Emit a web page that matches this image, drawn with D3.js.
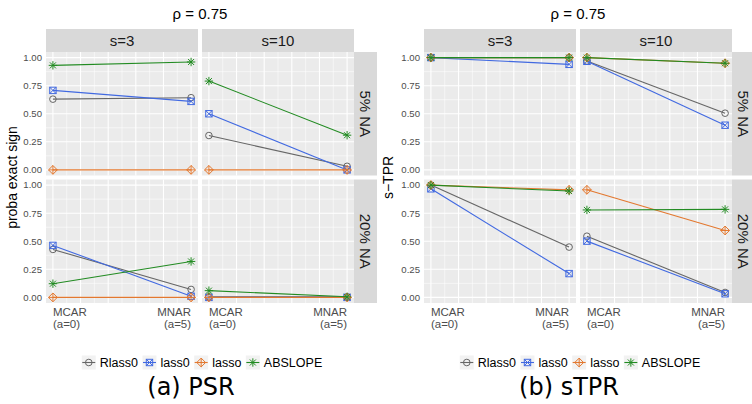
<!DOCTYPE html>
<html>
<head>
<meta charset="utf-8">
<script src="https://cdn.jsdelivr.net/npm/d3@7"></script>
<style>
  body { margin: 0; background: #fff; }
  svg { display: block; font-family: "Liberation Sans", Arial, sans-serif; }
</style>
</head>
<body>
<svg id="chart"></svg>
<script>
const width = 752
const height = 404

const methods = ['Rlass0', 'lass0', 'lasso', 'ABSLOPE']
const colors = ['#666666', '#4169E1', '#E3782F', '#228B22']
const shapes = ['circle', 'squareX', 'diamondPlus', 'asterisk']
const sizes = ['s=3', 's=10']
const naRates = ['5% NA', '20% NA']
const mechanisms = [0, 5]
const xLabels = [['MCAR', '(a=0)'], ['MNAR', '(a=5)']]
const yTicks = [0, 0.25, 0.5, 0.75, 1]

// values per facet: (5% s=3), (5% s=10), (20% s=3), (20% s=10), each [MCAR, MNAR]
const psrRlass0 = [0.63, 0.643, 0.306, 0.032, 0.427, 0.071, 0.005, 0.005]
const psrLass0 = [0.708, 0.61, 0.5, 0.0, 0.463, 0.01, 0.0, 0.0]
const psrLasso = [0, 0, 0, 0, 0, 0, 0, 0]
const psrAbslope = [0.931, 0.961, 0.791, 0.309, 0.122, 0.32, 0.06, 0.005]

const tprRlass0 = [1, 1, 0.97, 0.505, 1, 0.448, 0.545, 0.044]
const tprLass0 = [1, 0.94, 0.967, 0.398, 0.967, 0.212, 0.501, 0.032]
const tprLasso = [1, 1, 1, 0.95, 1, 0.958, 0.958, 0.596]
const tprAbslope = [1, 1, 1, 0.95, 1, 0.947, 0.779, 0.784]

const svg = d3.select('#chart').attr('width', width).attr('height', height)

const drawSymbol = (g, shape, color) => {
  const s = g.append('g').attr('fill', 'none').attr('stroke', color).attr('stroke-width', 1)
  if (shape === 'circle') {
    s.append('circle').attr('r', 3.3)
  } else if (shape === 'squareX') {
    s.append('rect').attr('x', -3.2).attr('y', -3.2).attr('width', 6.4).attr('height', 6.4)
    s.append('path').attr('d', 'M-3.2,-3.2L3.2,3.2M-3.2,3.2L3.2,-3.2')
  } else if (shape === 'diamondPlus') {
    s.append('path').attr('d', 'M0,-4.4L4.4,0L0,4.4L-4.4,0Z')
    s.append('path').attr('d', 'M0,-4.4V4.4M-4.4,0H4.4')
  } else {
    s.append('path').attr('d', 'M0,-4.2V4.2M-4.2,0H4.2M-3,-3L3,3M-3,3L3,-3')
  }
}

const drawChart = (ox, series, yTitle, caption, captionX, panelX0) => {
  const g = svg.append('g').attr('transform', `translate(${ox},0)`)
  const panelW = 152
  const panelH = 123.5
  const gap = 4
  const top = 52
  const stripH = 23

  const x = d3.scaleLinear().domain([-0.25, 5.25])
  const y = d3.scaleLinear().domain([-0.05, 1.05])

  const panelsRight = panelX0 + 2 * panelW + gap
  const midX = (panelX0 + panelsRight) / 2

  g.append('text')
    .attr('x', midX).attr('y', 18.5)
    .attr('text-anchor', 'middle')
    .attr('font-size', 15).attr('fill', '#000')
    .text('ρ = 0.75')

  sizes.forEach((s, c) => {
    const px = panelX0 + c * (panelW + gap)
    g.append('rect').attr('x', px).attr('y', top - stripH).attr('width', panelW).attr('height', stripH).attr('fill', '#D9D9D9')
    g.append('text').attr('x', px + panelW / 2).attr('y', 46.3)
      .attr('text-anchor', 'middle').attr('font-size', 15).attr('fill', '#1A1A1A').text(s)
  })

  naRates.forEach((na, r) => {
    const py = top + r * (panelH + gap)
    g.append('rect').attr('x', panelsRight).attr('y', py).attr('width', stripH).attr('height', panelH).attr('fill', '#D9D9D9')
    g.append('text')
      .attr('transform', `translate(${panelsRight + stripH / 2},${py + panelH / 2}) rotate(90)`)
      .attr('text-anchor', 'middle').attr('dominant-baseline', 'central')
      .attr('font-size', 15).attr('fill', '#1A1A1A').text(na)

    sizes.forEach((s, c) => {
      const px = panelX0 + c * (panelW + gap)
      x.range([px, px + panelW])
      y.range([py + panelH, py])
      const p = g.append('g')
      p.append('rect').attr('x', px).attr('y', py).attr('width', panelW).attr('height', panelH).attr('fill', '#EBEBEB')

      // minor grid
      d3.range(0.125, 1, 0.25).forEach(v => {
        p.append('line').attr('x1', px).attr('x2', px + panelW).attr('y1', y(v)).attr('y2', y(v))
          .attr('stroke', '#fff').attr('stroke-width', 0.55)
      })
      d3.range(0.5, 5, 1).forEach(v => {
        p.append('line').attr('x1', x(v)).attr('x2', x(v)).attr('y1', py).attr('y2', py + panelH)
          .attr('stroke', '#fff').attr('stroke-width', 0.55)
      })
      // major grid
      yTicks.forEach(v => {
        p.append('line').attr('x1', px).attr('x2', px + panelW).attr('y1', y(v)).attr('y2', y(v))
          .attr('stroke', '#fff').attr('stroke-width', 1.1)
      })
      d3.range(0, 6).forEach(v => {
        p.append('line').attr('x1', x(v)).attr('x2', x(v)).attr('y1', py).attr('y2', py + panelH)
          .attr('stroke', '#fff').attr('stroke-width', 1.1)
      })

      const facet = r * 2 + c
      methods.forEach((m, k) => {
        const vals = series[k].slice(facet * 2, facet * 2 + 2)
        const pts = mechanisms.map((a, i) => [x(a), y(vals[i])])
        p.append('path').attr('d', d3.line()(pts))
          .attr('fill', 'none').attr('stroke', colors[k]).attr('stroke-width', 1.1)
        pts.forEach(pt => {
          const sg = p.append('g').attr('transform', `translate(${pt[0]},${pt[1]})`)
          drawSymbol(sg, shapes[k], colors[k])
        })
      })

      if (c === 0) {
        yTicks.forEach(v => {
          g.append('text').attr('x', px - 4).attr('y', y(v)).attr('dy', '0.35em')
            .attr('text-anchor', 'end').attr('font-size', 9.6).attr('fill', '#4D4D4D')
            .text(d3.format('.2f')(v))
        })
      }
      if (r === 1) {
        mechanisms.forEach((a, i) => {
          const t = g.append('text').attr('font-size', 11.5).attr('fill', '#4D4D4D')
            .attr('text-anchor', i === 0 ? 'start' : 'end')
          xLabels[i].forEach((line, li) => {
            t.append('tspan').attr('x', x(a)).attr('y', 315.7 + li * 12.6).text(line)
          })
        })
      }
    })
  })

  g.append('text')
    .attr('transform', `translate(12,${top + panelH + gap / 2}) rotate(-90)`)
    .attr('text-anchor', 'middle').attr('dominant-baseline', 'central')
    .attr('font-size', 14).attr('fill', '#000').text(yTitle)

  // legend
  const leg = g.append('g')
  let cx = 0
  methods.forEach((m, k) => {
    const it = leg.append('g').attr('transform', `translate(${cx},362.5)`)
    it.append('rect').attr('x', -7).attr('y', -7).attr('width', 14).attr('height', 14).attr('fill', '#F2F2F2')
    it.append('line').attr('x1', -6.5).attr('x2', 6.5).attr('stroke', colors[k]).attr('stroke-width', 1.1)
    drawSymbol(it, shapes[k], colors[k])
    const t = it.append('text').attr('x', 11).attr('dy', '0.35em')
      .attr('font-size', 12.5).attr('fill', '#000').text(m)
    cx += 11 + t.node().getComputedTextLength() + 11.5
  })
  const legW = cx - 11.5 + 7
  leg.attr('transform', `translate(${midX + 2 - legW / 2 + 7},0)`)

  g.append('text')
    .attr('x', captionX).attr('y', 395)
    .attr('text-anchor', 'middle')
    .attr('font-family', '"DejaVu Sans", sans-serif')
    .attr('font-size', 24).attr('fill', '#000').text(caption)
}

drawChart(0, [psrRlass0, psrLass0, psrLasso, psrAbslope], 'proba exact sign', '(a) PSR', 191, 46)
drawChart(376, [tprRlass0, tprLass0, tprLasso, tprAbslope], 's\u2212TPR', '(b) sTPR', 193, 48)
</script>
</body>
</html>
